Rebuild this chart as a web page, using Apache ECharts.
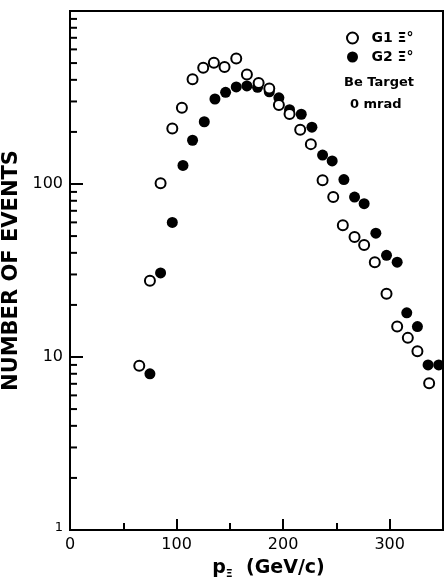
<!DOCTYPE html>
<html>
<head>
<meta charset="utf-8">
<script src="https://cdn.jsdelivr.net/npm/echarts@6/dist/echarts.min.js"></script>
<style>
html,body{margin:0;padding:0;background:#fff;}
#chart{width:444px;height:578px;}
</style>
</head>
<body>
<div id="chart"></div>
<script>
// G1 Xi0 (open circles): momentum (GeV/c), events
const g1Momentum = [65, 75, 85, 96, 105, 115, 125, 135, 145, 156, 166, 177, 187, 196, 206, 216, 226, 237, 247, 256, 267, 276, 286, 297, 307, 317, 326, 337];
const g1Events   = [8.9, 27.6, 101, 209, 276, 403, 470, 502, 474, 531, 429, 384, 356, 286, 254, 206, 170, 105, 84, 57.7, 49.4, 44.4, 35.3, 23.2, 15.0, 12.9, 10.8, 7.05];
// G2 Xi0 (filled circles)
const g2Momentum = [75, 85, 96, 106, 115, 126, 136, 146, 156, 166, 176, 187, 196, 206, 217, 227, 237, 246, 257, 267, 276, 287, 297, 307, 316, 326, 336, 346];
const g2Events   = [8.0, 30.6, 60, 128, 179, 229, 310, 339, 364, 369, 362, 341, 315, 269, 253, 213, 147, 136, 106, 84, 77, 52, 38.7, 35.3, 18.0, 15.0, 9.0, 9.0];
// axis tick values
const xLabelTicks = [0, 100, 200, 300];
const yLabelTicks = [1, 10, 100];
const yMinorTicks = [2,3,4,5,6,7,8,9,20,30,40,50,60,70,80,90,200,300,400,500,600,700,800,900];

const FONT = 'DejaVu Sans';
const chart = echarts.init(document.getElementById('chart'), null, {renderer: 'canvas'});

const option = {
  backgroundColor: '#fff',
  animation: false,
  grid: {left: 70, right: 1, top: 11, bottom: 48, containLabel: false, outerBoundsMode: 'none',
    show: true, borderColor: '#000', borderWidth: 2, backgroundColor: 'transparent'},
  legend: {
    orient: 'vertical', left: 341, top: 26, itemGap: 5, itemWidth: 14, itemHeight: 11,
    data: [{name: 'G1 Ξ°', icon: 'circle'}, {name: 'G2 Ξ°', icon: 'circle'}],
    textStyle: {fontFamily: FONT, fontWeight: 'bold', fontSize: 14, color: '#000', padding: [0, 0, 0, 7]}
  },
  graphic: [
    {type: 'text', left: 344, top: 76, style: {text: 'Be Target', font: 'bold 13px "DejaVu Sans"', fill: '#000'}},
    {type: 'text', left: 350, top: 98, style: {text: '0 mrad', font: 'bold 13px "DejaVu Sans"', fill: '#000'}}
  ],
  xAxis: [
    {
      type: 'value', min: 0, max: 350, interval: 50, position: 'bottom',
      axisLine: {show: true, onZero: false, lineStyle: {color: '#000', width: 2}},
      axisTick: {show: true, inside: true, length: 7, lineStyle: {color: '#000', width: 2}},
      axisLabel: {show: false}, splitLine: {show: false}
    },
    {
      type: 'value', min: 0, max: 350, interval: 100, position: 'bottom',
      axisLine: {show: false, onZero: false},
      axisTick: {show: true, inside: true, length: 11, lineStyle: {color: '#000', width: 2}},
      axisLabel: {show: true, margin: 7, color: '#000', fontFamily: FONT, fontSize: 16,
        formatter: v => xLabelTicks.indexOf(v) >= 0 ? String(v) : ''},
      splitLine: {show: false},
      name: '{p|p}{s|Ξ}  (GeV/c)', nameLocation: 'middle', nameGap: 27,
      nameTextStyle: {padding: [0, 0, 0, 24], rich: {
        p: {fontFamily: FONT, fontWeight: 'bold', fontSize: 19, color: '#000'},
        s: {fontFamily: FONT, fontWeight: 'bold', fontSize: 11, color: '#000', padding: [12, 0, 0, 0]},
      }, fontFamily: FONT, fontWeight: 'bold', fontSize: 19, color: '#000'}
    }
  ],
  yAxis: [{
    type: 'log', logBase: 10, min: 1, max: 1000,
    axisLine: {show: true, lineStyle: {color: '#000', width: 2}},
    axisTick: {show: true, inside: true, length: 13, lineStyle: {color: '#000', width: 2}},
    minorTick: {show: false},
    axisLabel: {show: true, margin: 7, color: '#000', fontFamily: FONT, fontSize: 16,
      formatter: v => v === 1 ? '{one|1}' : (yLabelTicks.indexOf(v) >= 0 ? String(v) : ''),
      rich: {one: {fontFamily: FONT, fontSize: 13, color: '#000', padding: [0, 0, 4, 0]}}},
    splitLine: {show: false},
    name: 'NUMBER OF EVENTS', nameLocation: 'middle', nameGap: 37, nameRotate: 90,
    nameTextStyle: {fontFamily: FONT, fontWeight: 'bold', fontSize: 21, color: '#000'}
  }],
  series: [
    {
      type: 'custom', name: 'minorTicks', silent: true, xAxisIndex: 0, yAxisIndex: 0,
      data: yMinorTicks.map(v => [0, v]),
      renderItem: function (params, api) {
        const p = api.coord([0, api.value(1)]);
        return {type: 'line', shape: {x1: p[0], y1: p[1], x2: p[0] + 7, y2: p[1]},
          style: {stroke: '#000', lineWidth: 2}};
      }
    },
    {
      name: 'G1 Ξ°', type: 'scatter', xAxisIndex: 0, symbol: 'circle', symbolSize: 10,
      itemStyle: {color: '#fff', borderColor: '#000', borderWidth: 2, opacity: 1},
      data: g1Momentum.map((x, i) => [x, g1Events[i]]), z: 3
    },
    {
      name: 'G2 Ξ°', type: 'scatter', xAxisIndex: 0, symbol: 'circle', symbolSize: 11,
      itemStyle: {color: '#000', opacity: 1},
      data: g2Momentum.map((x, i) => [x, g2Events[i]]), z: 2
    }
  ]
};
chart.setOption(option);
</script>
</body>
</html>
